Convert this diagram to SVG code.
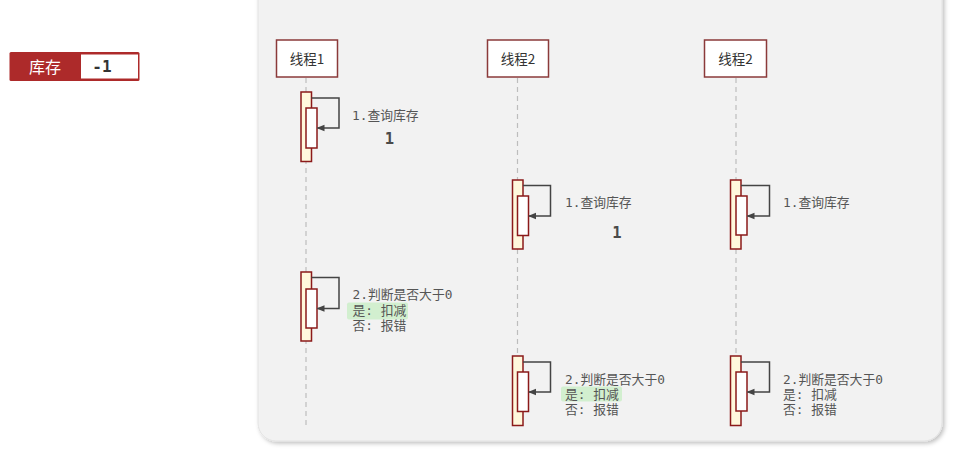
<svg xmlns="http://www.w3.org/2000/svg" width="963" height="453" viewBox="0 0 963 453">
  <style>
    .panel { fill: #f2f2f2; stroke: #e2e2e2; stroke-width: 1; }
    .head { fill: #ffffff; stroke: #8b3a3a; stroke-width: 1.5; }
    .head-t { font-family: "Noto Sans CJK SC", "Noto Sans", sans-serif; font-size: 13.5px; fill: #333; text-anchor: middle; }
    .life { stroke: #bdbdbd; stroke-width: 1.2; stroke-dasharray: 5 4; fill: none; }
    .act-o { fill: #fff8dc; stroke: #8b1a1a; stroke-width: 1.5; }
    .act-i { fill: #ffffff; stroke: #8b1a1a; stroke-width: 1.5; }
    .loop { fill: none; stroke: #444; stroke-width: 1.5; marker-end: url(#arr); }
    .lbl { font-family: "DejaVu Sans Mono", "Noto Sans CJK SC", monospace; font-size: 12.8px; fill: #555; }
    .val { font-family: "DejaVu Sans Mono", "Liberation Mono", monospace; font-size: 15.5px; font-weight: bold; fill: #4a4a4a; text-anchor: middle; }
    .hl { fill: #d2efcf; }
  </style>
  <defs>
    <marker id="arr" markerWidth="8" markerHeight="8" refX="7" refY="4" orient="auto" markerUnits="userSpaceOnUse">
      <path d="M0,0.8 L8,4 L0,7.2 Z" fill="#444"/>
    </marker>
    <filter id="sh" x="-5%" y="-5%" width="110%" height="110%">
      <feDropShadow dx="2" dy="2" stdDeviation="2" flood-color="#000" flood-opacity="0.25"/>
    </filter>
  </defs>

  <rect width="963" height="453" fill="#ffffff"/>

  <!-- stock counter -->
  <g id="stock">
    <rect x="9.5" y="52" width="130" height="29" fill="#ad2a2a" rx="1.5"/>
    <rect x="81" y="54.5" width="57" height="24" fill="#ffffff"/>
    <text x="45" y="72.5" font-family="Noto Sans CJK SC, sans-serif" font-size="16" fill="#ffffff" text-anchor="middle">库存</text>
    <text x="102" y="72" font-family="DejaVu Sans Mono, monospace" font-size="16" font-weight="bold" fill="#333" text-anchor="middle">-1</text>
  </g>

  <!-- background panel -->
  <rect class="panel" x="258" y="-30" width="684" height="471" rx="18" filter="url(#sh)"/>

  <!-- lifelines -->
  <g id="lifelines">
    <line class="life" x1="306" y1="78" x2="306" y2="428"/>
    <line class="life" x1="517.5" y1="78" x2="517.5" y2="428"/>
    <line class="life" x1="736" y1="78" x2="736" y2="428"/>
  </g>

  <!-- participants -->
  <g id="thread1">
    <rect class="head" x="276.5" y="40" width="61" height="37"/>
    <text class="head-t" x="307" y="63.5">线程1</text>
  </g>
  <g id="thread2a">
    <rect class="head" x="487.5" y="40" width="61" height="37"/>
    <text class="head-t" x="518" y="63.5">线程2</text>
  </g>
  <g id="thread2b">
    <rect class="head" x="704.5" y="40" width="62" height="37"/>
    <text class="head-t" x="735.5" y="63.5">线程2</text>
  </g>

  <!-- activations -->
  <g id="t1-act1">
    <rect class="act-o" x="301" y="92" width="10.5" height="69.5"/>
    <rect class="act-i" x="306" y="108" width="11" height="40"/>
  </g>
  <g id="t1-act2">
    <rect class="act-o" x="301" y="272" width="10.5" height="69"/>
    <rect class="act-i" x="306" y="289" width="11" height="39"/>
  </g>
  <g id="t2a-act1">
    <rect class="act-o" x="512.5" y="180" width="10.5" height="69"/>
    <rect class="act-i" x="517.5" y="196" width="11" height="39.5"/>
  </g>
  <g id="t2a-act2">
    <rect class="act-o" x="512.5" y="356" width="10.5" height="69.5"/>
    <rect class="act-i" x="517.5" y="372" width="11" height="39.5"/>
  </g>
  <g id="t2b-act1">
    <rect class="act-o" x="730.5" y="180" width="10.5" height="69"/>
    <rect class="act-i" x="736" y="196" width="11" height="39"/>
  </g>
  <g id="t2b-act2">
    <rect class="act-o" x="730.5" y="356" width="10.5" height="69.5"/>
    <rect class="act-i" x="736" y="372" width="11" height="39"/>
  </g>

  <!-- self messages -->
  <g id="connectors">
    <path class="loop" d="M311.5,98 H339 V128 H317.5"/>
    <path class="loop" d="M311.5,277.5 H339 V308.5 H317.5"/>
    <path class="loop" d="M523,185.5 H550.5 V216 H529"/>
    <path class="loop" d="M523,362 H550.5 V392 H529"/>
    <path class="loop" d="M741,185.5 H769.5 V216 H747.5"/>
    <path class="loop" d="M741,362 H769.5 V392 H747.5"/>
  </g>

  <!-- highlights -->
  <rect class="hl" x="347" y="302.5" width="61" height="17" rx="2"/>
  <rect class="hl" x="561" y="386.5" width="61" height="15" rx="2"/>

  <!-- labels -->
  <g id="labels">
    <text class="lbl" x="352" y="119.5">1.查询库存</text>
    <text class="val" x="389.5" y="143.5">1</text>
    <text class="lbl" x="352.5" y="298.5">2.判断是否大于0</text>
    <text class="lbl" x="352.5" y="314.5">是: 扣减</text>
    <text class="lbl" x="352.5" y="329.5">否: 报错</text>

    <text class="lbl" x="565" y="206.5">1.查询库存</text>
    <text class="val" x="617" y="237.5">1</text>
    <text class="lbl" x="565" y="383.5">2.判断是否大于0</text>
    <text class="lbl" x="565" y="398.5">是: 扣减</text>
    <text class="lbl" x="565" y="414">否: 报错</text>

    <text class="lbl" x="783" y="206.5">1.查询库存</text>
    <text class="lbl" x="783" y="383.5">2.判断是否大于0</text>
    <text class="lbl" x="783" y="398.5">是: 扣减</text>
    <text class="lbl" x="783" y="414">否: 报错</text>
  </g>
</svg>
